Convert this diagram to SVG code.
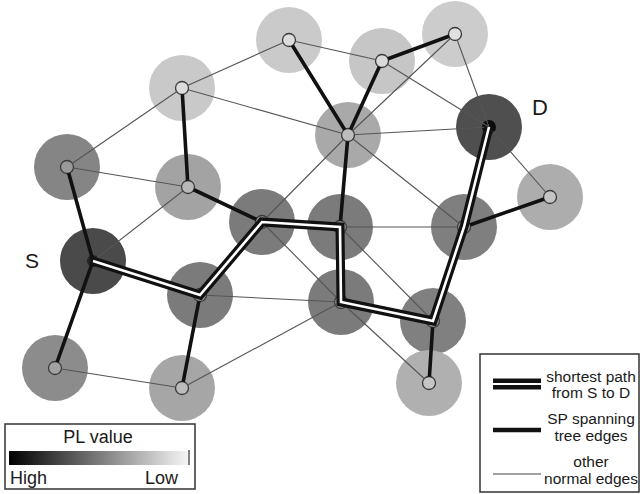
<svg xmlns="http://www.w3.org/2000/svg" width="640" height="494" viewBox="0 0 640 494">
<style>
.halo{stroke:none}
.dot{stroke:#3a3a3a;stroke-width:1.3}
.thin{stroke:#555;stroke-width:1.1;fill:none}
.thick{stroke:#111;stroke-width:3.6;fill:none;stroke-linecap:round}
.spo{stroke:#111;stroke-width:9;fill:none;stroke-linejoin:miter}
.spi{stroke:#fff;stroke-width:2.6;fill:none;stroke-linejoin:miter}
.txt{font-family:"Liberation Sans",Arial,sans-serif;fill:#1a1a1a}
.box{fill:#fff;stroke:#333;stroke-width:1.5}
</style>
<defs>
<linearGradient id="pl" x1="0" y1="0" x2="1" y2="0">
<stop offset="0" stop-color="#000"/>
<stop offset="1" stop-color="#f8f8f8"/>
</linearGradient>
<mask id="holes" maskUnits="userSpaceOnUse" x="0" y="0" width="640" height="494">
<rect x="0" y="0" width="640" height="494" fill="#fff"/>
<g fill="#000">
<circle cx="289" cy="40" r="6.5"/><circle cx="455" cy="34" r="6.5"/><circle cx="382" cy="61" r="6.5"/>
<circle cx="182" cy="88" r="6.5"/><circle cx="348" cy="135" r="6.5"/><circle cx="67" cy="167" r="6.5"/>
<circle cx="188" cy="187" r="6.5"/><circle cx="550" cy="197" r="6.5"/><circle cx="262" cy="222" r="6.5"/>
<circle cx="340" cy="227" r="6.5"/><circle cx="464" cy="227" r="6.5"/><circle cx="200" cy="295" r="6.5"/>
<circle cx="341" cy="302" r="6.5"/><circle cx="433" cy="321" r="6.5"/><circle cx="55" cy="368" r="6.5"/>
<circle cx="182" cy="388" r="6.5"/><circle cx="429" cy="383" r="6.5"/>
</g>
</mask>
</defs>
<rect width="640" height="494" fill="#fff"/>

<g id="n1"><circle class="halo" cx="289" cy="40" r="33" fill="#cacaca"/><circle class="dot" cx="289" cy="40" r="6.5" fill="#dcdcdc"/></g>
<g id="n2"><circle class="halo" cx="455" cy="34" r="33" fill="#cccccc"/><circle class="dot" cx="455" cy="34" r="6.5" fill="#e0e0e0"/></g>
<g id="n3"><circle class="halo" cx="382" cy="61" r="33" fill="#c6c6c6"/><circle class="dot" cx="382" cy="61" r="6.5" fill="#dadada"/></g>
<g id="n4"><circle class="halo" cx="182" cy="88" r="33" fill="#c9c9c9"/><circle class="dot" cx="182" cy="88" r="6.5" fill="#dcdcdc"/></g>
<g id="n5"><circle class="halo" cx="348" cy="135" r="33" fill="#a9a9a9"/><circle class="dot" cx="348" cy="135" r="6.5" fill="#bdbdbd"/></g>
<g id="D"><circle class="halo" cx="489" cy="127" r="33" fill="#4f4f4f"/><circle cx="489" cy="127" r="7" fill="#0a0a0a"/></g>
<g id="n7"><circle class="halo" cx="67" cy="167" r="33" fill="#858585"/><circle class="dot" cx="67" cy="167" r="6.5" fill="#9a9a9a"/></g>
<g id="n8"><circle class="halo" cx="188" cy="187" r="33" fill="#a3a3a3"/><circle class="dot" cx="188" cy="187" r="6.5" fill="#b8b8b8"/></g>
<g id="n9"><circle class="halo" cx="550" cy="197" r="33" fill="#adadad"/><circle class="dot" cx="550" cy="197" r="6.5" fill="#c4c4c4"/></g>
<g id="n10"><circle class="halo" cx="262" cy="222" r="33" fill="#7b7b7b"/><circle class="dot" cx="262" cy="222" r="6.5" fill="#959595"/></g>
<g id="n11"><circle class="halo" cx="340" cy="227" r="33" fill="#7b7b7b"/><circle class="dot" cx="340" cy="227" r="6.5" fill="#959595"/></g>
<g id="n12"><circle class="halo" cx="464" cy="227" r="33" fill="#7f7f7f"/><circle class="dot" cx="464" cy="227" r="6.5" fill="#989898"/></g>
<g id="S"><circle class="halo" cx="93" cy="261" r="33" fill="#4a4a4a"/><circle cx="93" cy="261" r="6" fill="#222"/></g>
<g id="n14"><circle class="halo" cx="200" cy="295" r="33" fill="#7b7b7b"/><circle class="dot" cx="200" cy="295" r="6.5" fill="#959595"/></g>
<g id="n15"><circle class="halo" cx="341" cy="302" r="33" fill="#7b7b7b"/><circle class="dot" cx="341" cy="302" r="6.5" fill="#959595"/></g>
<g id="n16"><circle class="halo" cx="433" cy="321" r="33" fill="#808080"/><circle class="dot" cx="433" cy="321" r="6.5" fill="#9a9a9a"/></g>
<g id="n17"><circle class="halo" cx="55" cy="368" r="33" fill="#8c8c8c"/><circle class="dot" cx="55" cy="368" r="6.5" fill="#a2a2a2"/></g>
<g id="n18"><circle class="halo" cx="182" cy="388" r="33" fill="#a6a6a6"/><circle class="dot" cx="182" cy="388" r="6.5" fill="#bcbcbc"/></g>
<g id="n19"><circle class="halo" cx="429" cy="383" r="33" fill="#b0b0b0"/><circle class="dot" cx="429" cy="383" r="6.5" fill="#c6c6c6"/></g>

<g id="connectors">
<g mask="url(#holes)">
<g class="thin">
<line x1="289" y1="40" x2="182" y2="88"/>
<line x1="289" y1="40" x2="382" y2="61"/>
<line x1="182" y1="88" x2="67" y2="167"/>
<line x1="182" y1="88" x2="348" y2="135"/>
<line x1="67" y1="167" x2="188" y2="187"/>
<line x1="188" y1="187" x2="93" y2="261"/>
<line x1="455" y1="34" x2="348" y2="135"/>
<line x1="455" y1="34" x2="489" y2="127"/>
<line x1="382" y1="61" x2="489" y2="127"/>
<line x1="348" y1="135" x2="489" y2="127"/>
<line x1="348" y1="135" x2="464" y2="227"/>
<line x1="348" y1="135" x2="262" y2="222"/>
<line x1="340" y1="227" x2="464" y2="227"/>
<line x1="489" y1="127" x2="550" y2="197"/>
<line x1="262" y1="222" x2="341" y2="302"/>
<line x1="340" y1="227" x2="433" y2="321"/>
<line x1="200" y1="295" x2="341" y2="302"/>
<line x1="55" y1="368" x2="182" y2="388"/>
<line x1="182" y1="388" x2="341" y2="302"/>
<line x1="341" y1="302" x2="429" y2="383"/>
</g>
<g class="thick">
<line x1="67" y1="167" x2="93" y2="261"/>
<line x1="93" y1="261" x2="55" y2="368"/>
<line x1="200" y1="295" x2="182" y2="388"/>
<line x1="188" y1="187" x2="262" y2="222"/>
<line x1="182" y1="88" x2="188" y2="187"/>
<line x1="289" y1="40" x2="348" y2="135"/>
<line x1="382" y1="61" x2="348" y2="135"/>
<line x1="382" y1="61" x2="455" y2="34"/>
<line x1="348" y1="135" x2="340" y2="227"/>
<line x1="550" y1="197" x2="464" y2="227"/>
<line x1="433" y1="321" x2="429" y2="383"/>
</g>
</g>
<polyline class="spo" points="489,127 464,227 433,321 341,302 340,227 262,222 200,295 93,261"/>
<polyline class="spi" points="489,127 464,227 433,321 341,302 340,227 262,222 200,295 93,261"/>
</g>

<text class="txt" x="25" y="268" font-size="21">S</text>
<text class="txt" x="532" y="115" font-size="22">D</text>

<g id="legend-pl">
<rect class="box" x="5" y="424" width="190" height="65"/>
<text class="txt" x="98" y="443" font-size="18" text-anchor="middle">PL value</text>
<rect x="9" y="451" width="181" height="14" fill="url(#pl)"/>
<line x1="189" y1="450" x2="189" y2="465" stroke="#333" stroke-width="1.2"/>
<text class="txt" x="10" y="484" font-size="18">High</text>
<text class="txt" x="178" y="484" font-size="18" text-anchor="end">Low</text>
</g>

<g id="legend-edges">
<rect class="box" x="480" y="354" width="159" height="138"/>
<line x1="493" y1="384" x2="541" y2="384" stroke="#111" stroke-width="11"/>
<line x1="493" y1="384" x2="541" y2="384" stroke="#fff" stroke-width="2"/>
<line x1="493" y1="430" x2="541" y2="430" stroke="#111" stroke-width="4.5"/>
<line x1="493" y1="474" x2="541" y2="474" stroke="#444" stroke-width="1.2"/>
<g class="txt" font-size="15.5" text-anchor="middle">
<text x="591" y="382">shortest path</text>
<text x="591" y="398">from S to D</text>
<text x="591" y="424">SP spanning</text>
<text x="591" y="441">tree edges</text>
<text x="591" y="467">other</text>
<text x="591" y="484">normal edges</text>
</g>
</g>
</svg>
